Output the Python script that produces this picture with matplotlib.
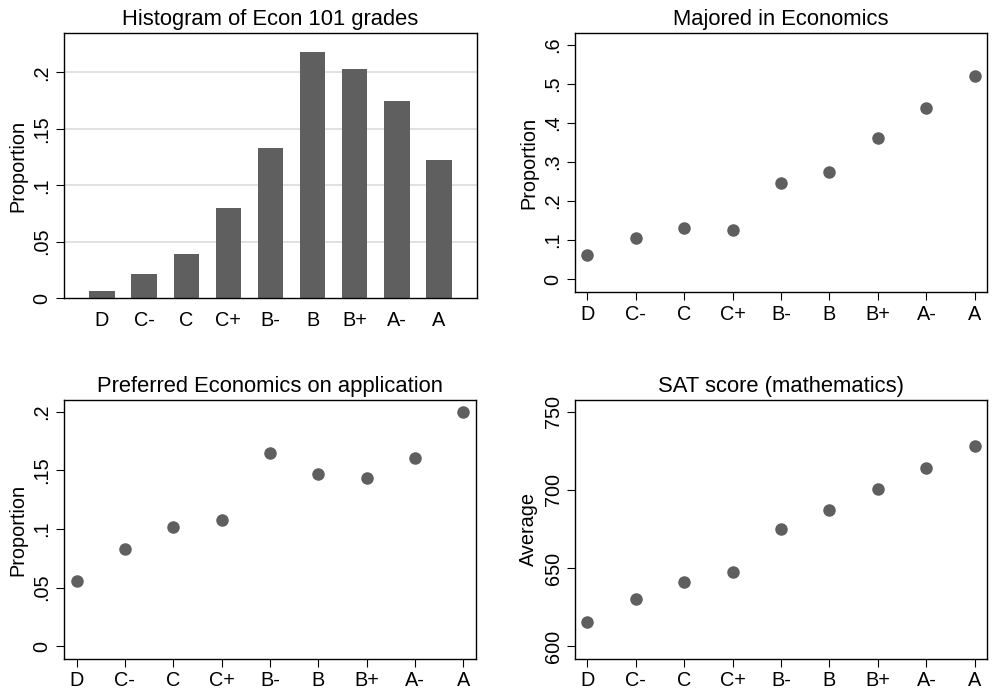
import matplotlib
matplotlib.use("Agg")
import matplotlib.pyplot as plt
import numpy as np

plt.rcParams["font.family"] = ["Liberation Sans", "DejaVu Sans"]

grades = ["D", "C-", "C", "C+", "B-", "B", "B+", "A-", "A"]
grade_share = [0.006, 0.021, 0.039, 0.080, 0.133, 0.218, 0.203, 0.175, 0.122]
majored_econ = [0.061, 0.105, 0.131, 0.125, 0.246, 0.274, 0.362, 0.440, 0.520]
preferred_econ = [0.0556, 0.0832, 0.1017, 0.108, 0.165, 0.147, 0.1436, 0.1607, 0.1997]
sat_math = [615.6, 630.5, 641.2, 647.6, 674.9, 687.1, 700.5, 714.0, 728.2]

W, H = 992, 694
fig = plt.figure(figsize=(W / 100, H / 100), dpi=100)

GRAY = "#5f5f5f"
FS = 14.3


def axes_px(x0, y0, x1, y1):
    return fig.add_axes([x0 / W, 1 - y1 / H, (x1 - x0) / W, (y1 - y0) / H])


def fmt(v):
    s = f"{v:g}"
    return s[1:] if s.startswith("0.") else s


def style(ax, title, ylabel, yticks, xticks=True):
    ax.set_title(title, fontsize=15.8, pad=6)
    ax.set_ylabel(ylabel, fontsize=FS, labelpad=4)
    ax.set_yticks(yticks)
    ax.set_yticklabels([fmt(v) for v in yticks], rotation=90, va="center",
                       fontsize=FS)
    ax.set_xticks(range(len(grades)))
    ax.set_xticklabels(grades, fontsize=FS)
    ax.tick_params(axis="y", length=6, width=0.8, pad=3)
    if xticks:
        ax.tick_params(axis="x", length=6, width=0.8, pad=3)
    else:
        ax.tick_params(axis="x", length=0, pad=9)
    for sp in ax.spines.values():
        sp.set_linewidth(1.0)


x = np.arange(len(grades))

# histogram of grades
ax1 = axes_px(64, 33, 477, 298)
ax1.bar(x, grade_share, width=0.6, color=GRAY, zorder=2)
ax1.set_xlim(-0.9, 8.9)
ax1.set_ylim(0, 0.235)
for g in [0.05, 0.1, 0.15, 0.2]:
    ax1.axhline(g, color="#dcdcdc", lw=1.2, zorder=1)
style(ax1, "Histogram of Econ 101 grades", "Proportion",
      [0, 0.05, 0.1, 0.15, 0.2], xticks=False)

# majored in economics
ax2 = axes_px(575, 33, 987, 292)
ax2.plot(x, majored_econ, "o", color=GRAY, ms=8)
ax2.set_xlim(-0.25, 8.25)
ax2.set_ylim(-0.033, 0.631)
style(ax2, "Majored in Economics", "Proportion",
      [0, 0.1, 0.2, 0.3, 0.4, 0.5, 0.6])

# preferred economics on application
ax3 = axes_px(64, 400, 476, 659)
ax3.plot(x, preferred_econ, "o", color=GRAY, ms=8)
ax3.set_xlim(-0.26, 8.26)
ax3.set_ylim(-0.0109, 0.210)
style(ax3, "Preferred Economics on application", "Proportion",
      [0, 0.05, 0.1, 0.15, 0.2])

# SAT math average
ax4 = axes_px(575, 400, 987, 659)
ax4.plot(x, sat_math, "o", color=GRAY, ms=8)
ax4.set_xlim(-0.25, 8.25)
ax4.set_ylim(591.9, 757.5)
style(ax4, "SAT score (mathematics)", "Average", [600, 650, 700, 750])

fig.savefig("out.png", dpi=100)
